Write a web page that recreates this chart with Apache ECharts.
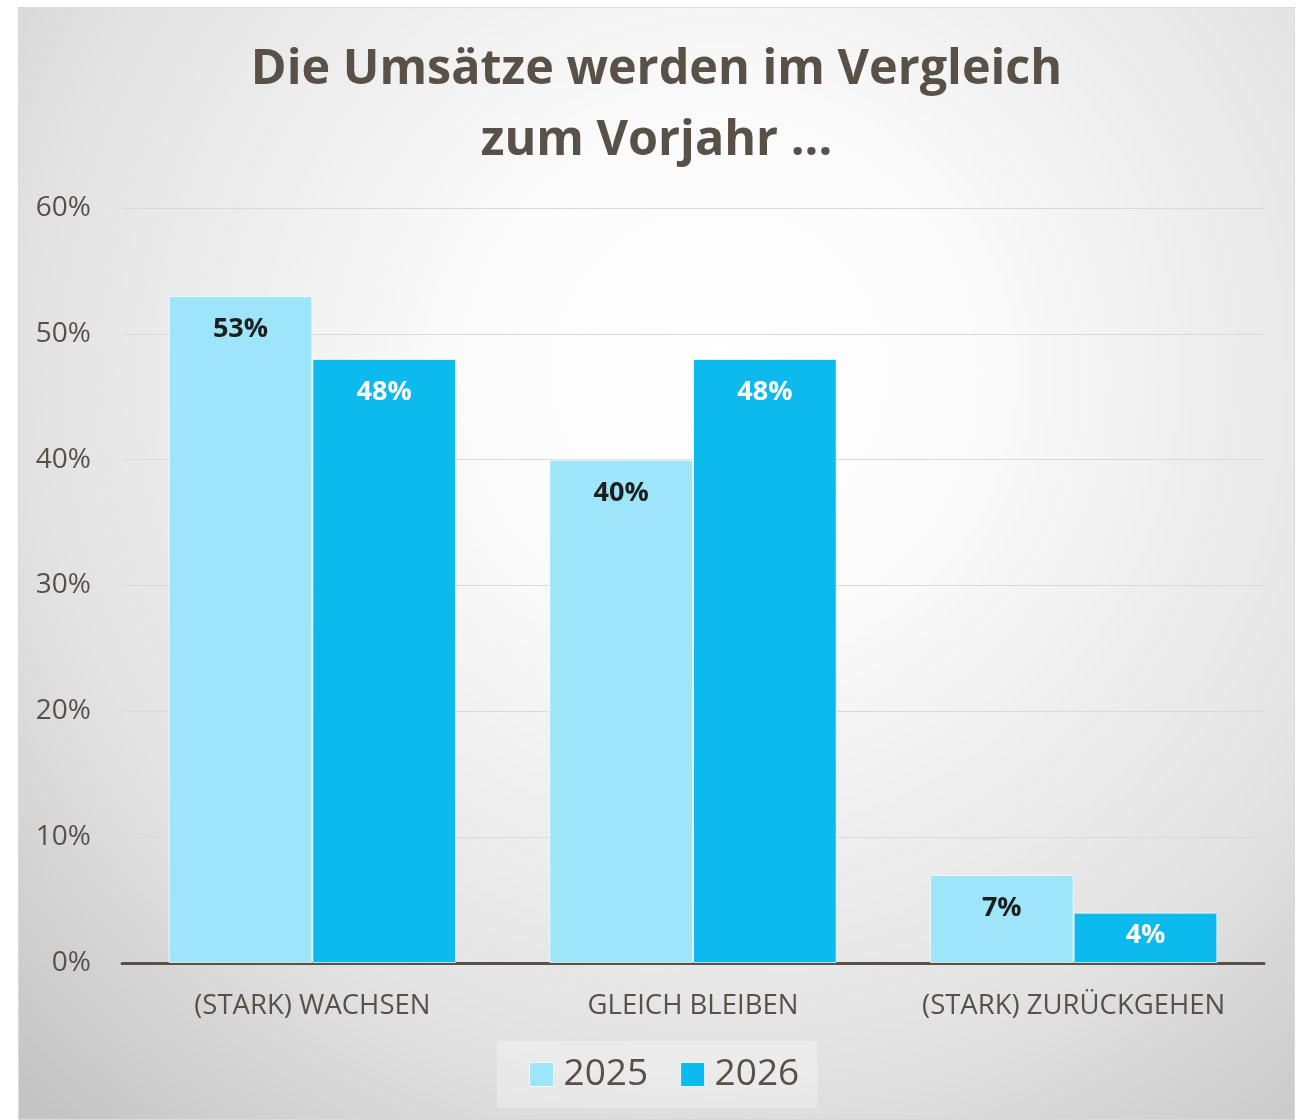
<!DOCTYPE html>
<html>
<head>
<meta charset="utf-8">
<script src="https://cdn.jsdelivr.net/npm/echarts@6/dist/echarts.min.js"></script>
<style>
  html, body { margin: 0; padding: 0; background: #ffffff; }
  #panel {
    position: absolute; left: 18px; top: 7px; width: 1277px; height: 1113px;
    border: 1px solid #d9d9d9; box-sizing: border-box; overflow: hidden;
  }
  #chart { width: 100%; height: 100%; }
</style>
</head>
<body>
<div id="panel"><div id="chart"></div></div>
<script>
  // chart data
  const categories = ["(STARK) WACHSEN", "GLEICH BLEIBEN", "(STARK) ZURÜCKGEHEN"];
  const years = ["2025", "2026"];
  const values2025 = [53, 40, 7];
  const values2026 = [48, 48, 4];
  const yTicks = [0, 10, 20, 30, 40, 50, 60];

  const textColor = "#595048";
  const colors = ["#9ee5fa", "#0dbaed"];
  const labelColors = ["#1e1e1e", "#ffffff"];

  const chart = echarts.init(document.getElementById("chart"));

  // build one bar series per year
  const makeSeries = (name, values, idx) => ({
    name: name,
    type: "bar",
    barGap: "0%",
    barCategoryGap: "24.5%",
    itemStyle: {
      color: colors[idx],
      borderColor: "rgba(255,255,255,0.7)",
      borderWidth: 1,
    },
    data: values.map((v) => ({
      value: v,
      label: { distance: v < 5 ? 9 : 20 },
    })),
    label: {
      show: true,
      position: "insideTop",
      formatter: "{c}%",
      color: labelColors[idx],
      fontFamily: "Open Sans",
      fontWeight: "bold",
      fontSize: 27,
    },
  });

  chart.setOption({
    animation: false,
    backgroundColor: {
      type: "radial",
      x: 0.55,
      y: 0.33,
      r: 0.9,
      colorStops: [
        { offset: 0, color: "#ffffff" },
        { offset: 0.25, color: "#fbfbfb" },
        { offset: 0.7, color: "#e2e2e2" },
        { offset: 1, color: "#c4c4c4" },
      ],
    },
    title: {
      text: "Die Umsätze werden im Vergleich\nzum Vorjahr ...",
      left: "center",
      top: 22,
      textStyle: {
        color: textColor,
        fontFamily: "Open Sans",
        fontWeight: "bold",
        fontSize: 48.5,
        lineHeight: 71,
      },
    },
    legend: {
      data: years,
      left: 478,
      top: 1033,
      icon: "rect",
      itemWidth: 24,
      itemHeight: 24,
      itemGap: 32,
      padding: [15, 18, 15, 32],
      backgroundColor: "rgba(255,255,255,0.3)",
      itemStyle: { borderColor: "rgba(255,255,255,0.8)", borderWidth: 1 },
      textStyle: {
        color: textColor,
        fontFamily: "Open Sans",
        fontSize: 37,
        padding: [0, 0, 0, 5],
      },
    },
    grid: { left: 103, right: 30, top: 200, bottom: 156, containLabel: false },
    xAxis: {
      type: "category",
      data: categories,
      axisTick: { show: false },
      axisLine: { lineStyle: { color: textColor, width: 3 } },
      axisLabel: {
        interval: 0,
        hideOverlap: false,
        color: textColor,
        fontFamily: "Open Sans",
        fontSize: 27.5,
        margin: 29,
      },
    },
    yAxis: {
      type: "value",
      min: yTicks[0],
      max: yTicks[yTicks.length - 1],
      interval: 10,
      axisLine: { show: false },
      axisTick: { show: false },
      splitLine: { lineStyle: { color: "#d9d9d9", width: 1 } },
      axisLabel: {
        color: textColor,
        fontFamily: "Open Sans",
        fontSize: 28,
        margin: 31,
        formatter: "{value}%",
      },
    },
    series: [makeSeries(years[0], values2025, 0), makeSeries(years[1], values2026, 1)],
  });
</script>
</body>
</html>
